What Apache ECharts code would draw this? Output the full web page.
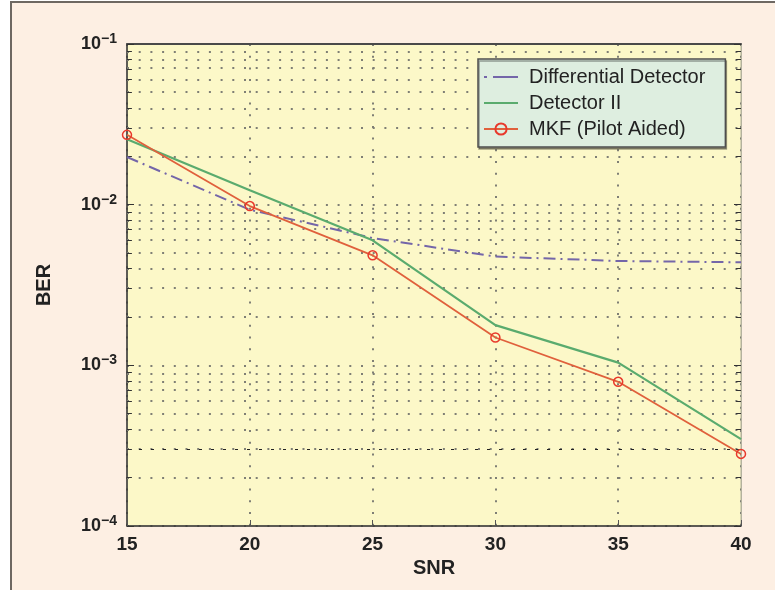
<!DOCTYPE html>
<html>
<head>
<meta charset="utf-8">
<script src="https://cdn.jsdelivr.net/npm/echarts@6/dist/echarts.min.js"></script>
<style>
html,body{margin:0;padding:0;background:#ffffff;}
#chart{width:775px;height:590px;}
</style>
</head>
<body>
<div id="chart"></div>
<script>
// ---- data ----
var snr = [15, 20, 25, 30, 35, 40];
var differential = [0.0198, 0.0093, 0.0062, 0.00475, 0.00446, 0.00438];
var detectorII = [0.0255, 0.0123, 0.0060, 0.00178, 0.00104, 0.000347];
var mkf = [0.0272, 0.0098, 0.00484, 0.00149, 0.00079, 0.000281];
var seriesNames = ['Differential Detector', 'Detector II', 'MKF (Pilot Aided)'];
var yExponents = [-4, -3, -2, -1];
var xTicks = [15, 20, 25, 30, 35, 40];
var minorMultipliers = [2, 3, 4, 5, 6, 7, 8, 9];
var dashedRefLevel = [0.0003];

function pairs(ys) { return snr.map(function (x, i) { return [x, ys[i]]; }); }

var yMin = Math.pow(10, yExponents[0]);
var yMax = Math.pow(10, yExponents[yExponents.length - 1]);
var eMin = yExponents[0], eMax = yExponents[yExponents.length - 1];
var xMin = xTicks[0], xMax = xTicks[xTicks.length - 1];

// minor log grid levels (in log10 units, drawn on a hidden linear twin axis)
var minorLevels = [];
for (var e = eMin; e < eMax; e++) {
  minorMultipliers.forEach(function (m) { minorLevels.push(Math.log10(m) + e); });
}

var gridDot = { color: '#7f7f75', width: 2, type: [2, 9.7] };
var tickStyle = { color: '#333', width: 1, type: 'solid' };

var markData = [];
minorLevels.forEach(function (v) {
  markData.push({ yAxis: v, lineStyle: gridDot });
});
dashedRefLevel.forEach(function (v) {
  markData.push({ yAxis: Math.log10(v), lineStyle: { color: '#222', width: 1, type: [3, 9] } });
});
minorLevels.forEach(function (v) {
  markData.push([{ coord: [xMin, v], lineStyle: tickStyle }, { coord: [xMin + 0.2, v] }]);
  markData.push([{ coord: [xMax - 0.2, v], lineStyle: tickStyle }, { coord: [xMax, v] }]);
});

function yLabel(val) {
  var ex = Math.round(Math.log10(val));
  return '{b|10}{s|' + String(ex).replace('-', '\u2212') + '}';
}

var chart = echarts.init(document.getElementById('chart'), null, { renderer: 'canvas' });
var FONT = 'Liberation Sans, Arial, Helvetica, sans-serif';

var option = {
  animation: false,
  backgroundColor: '#ffffff',
  graphic: [{
    type: 'rect', z: -10, silent: true,
    shape: { x: 11, y: 2, width: 800, height: 620 },
    style: { fill: '#fdefe3', stroke: '#6e6862', lineWidth: 2 }
  }],
  grid: {
    left: 127, top: 44, right: 34, bottom: 64,
    show: true, backgroundColor: '#fcf8c8', borderColor: '#b4b29e', borderWidth: 1
  },
  legend: {
    orient: 'vertical', left: 478, top: 59, z: 30,
    data: [
      { name: seriesNames[0], icon: 'path://M0,0h3v2h-3z M9,0h25v2h-25z' },
      { name: seriesNames[1], icon: 'path://M0,0h34v2.2h-34z' },
      { name: seriesNames[2] }
    ],
    backgroundColor: '#deeee0', borderColor: '#4e4e4e', borderWidth: 1.5,
    shadowColor: 'rgba(0,0,0,0.35)', shadowOffsetX: 1, shadowOffsetY: 2, shadowBlur: 0,
    padding: [8, 20, 8, 5],
    itemWidth: 34, itemHeight: 14, itemGap: 6,
    textStyle: { fontFamily: FONT, fontSize: 20, color: '#222', padding: [0, 0, 0, 6] }
  },
  xAxis: [{
    type: 'value', min: xMin, max: xMax, interval: 5, position: 'bottom',
    name: 'SNR', nameLocation: 'middle', nameGap: 31,
    nameTextStyle: { fontFamily: FONT, fontSize: 20, fontWeight: 'bold', color: '#222' },
    axisLine: { show: true, lineStyle: { color: '#333', width: 1.5 } },
    axisTick: { show: true, inside: true, length: 6, lineStyle: { color: '#555' } },
    axisLabel: { fontFamily: FONT, fontSize: 19, fontWeight: 'bold', color: '#222', margin: 9 },
    splitLine: { show: true, lineStyle: gridDot }
  }, {
    type: 'value', min: xMin, max: xMax, interval: 5, position: 'top',
    axisLine: { show: true, lineStyle: { color: '#4a4a4a', width: 2 } },
    axisTick: { show: false }, axisLabel: { show: false }, splitLine: { show: false }
  }],
  yAxis: [{
    type: 'log', logBase: 10, min: yMin, max: yMax, position: 'left',
    name: 'BER', nameLocation: 'middle', nameGap: 73,
    nameTextStyle: { fontFamily: FONT, fontSize: 20, fontWeight: 'bold', color: '#222' },
    axisLine: { show: true, lineStyle: { color: '#333', width: 1.5 } },
    axisTick: { show: true, inside: true, length: 7, lineStyle: { color: '#333' } },
    axisLabel: {
      margin: 10, formatter: yLabel,
      rich: {
        b: { fontFamily: FONT, fontSize: 18, fontWeight: 'bold', color: '#222' },
        s: { fontFamily: FONT, fontSize: 14, fontWeight: 'bold', color: '#222', padding: [0, 0, 10, 0] }
      }
    },
    splitLine: { show: true, lineStyle: gridDot }
  }, {
    type: 'log', logBase: 10, min: yMin, max: yMax, position: 'right',
    axisLine: { show: true, lineStyle: { color: '#b4b29e', width: 1 } },
    axisTick: { show: true, inside: true, length: 7, lineStyle: { color: '#333' } },
    axisLabel: { show: false }, splitLine: { show: false }
  }, {
    type: 'value', min: eMin, max: eMax, show: false, position: 'left'
  }],
  series: [{
    name: '_grid', type: 'line', xAxisIndex: 0, yAxisIndex: 2, z: 1,
    data: [[xMin, eMin], [xMax, eMax]], symbol: 'none', silent: true,
    lineStyle: { opacity: 0 },
    markLine: { z: 1, silent: true, symbol: ['none', 'none'], label: { show: false }, animation: false, data: markData }
  }, {
    name: seriesNames[0], type: 'line', z: 3, data: pairs(differential),
    symbol: 'none', color: '#7466a9',
    lineStyle: { color: '#7466a9', width: 2, type: [12, 5, 2, 5] }
  }, {
    name: seriesNames[1], type: 'line', z: 4, data: pairs(detectorII),
    symbol: 'none', color: '#5aab6e',
    lineStyle: { color: '#5aab6e', width: 2.2 }
  }, {
    name: seriesNames[2], type: 'line', z: 5, data: pairs(mkf),
    symbol: 'circle', symbolSize: 9, color: '#e8392c',
    itemStyle: { color: 'rgba(0,0,0,0)', borderColor: '#e8392c', borderWidth: 1.5 },
    lineStyle: { color: '#e0603c', width: 1.8 }
  }]
};
chart.setOption(option);
</script>
</body>
</html>
